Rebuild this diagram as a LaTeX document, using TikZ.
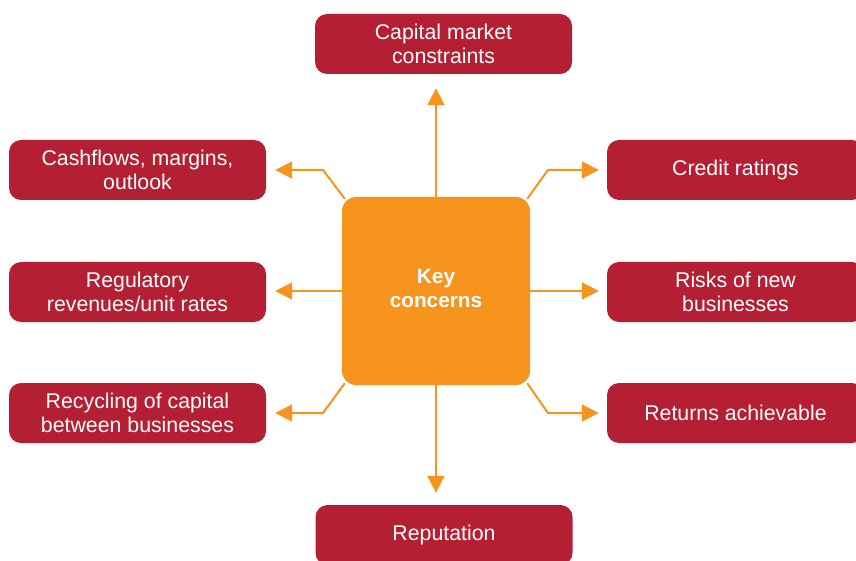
\documentclass[tikz,border=0pt]{standalone}
\usepackage{fontspec}
\setmainfont{Liberation Sans}
\usetikzlibrary{arrows.meta,backgrounds}
\definecolor{cred}{RGB}{181,31,52}
\definecolor{corange}{RGB}{247,148,30}
\begin{document}
\begin{tikzpicture}[x=1pt,y=-1pt,
  rbox/.style={fill=cred, rounded corners=12pt, minimum width=257pt, minimum height=60pt,
    text=white, font=\fontsize{21.3}{24}\selectfont, align=center, inner sep=0pt},
  cbox/.style={fill=corange, rounded corners=14pt, minimum width=188pt, minimum height=188pt,
    text=white, font=\fontsize{20.8}{24}\selectfont\bfseries, align=center, inner sep=0pt},
  arr/.style={draw=corange, line width=2pt, -{Triangle[length=17pt,width=17pt]}}]
\clip (0,0) rectangle (856,561);
\useasboundingbox (0,0) rectangle (856,561);
\node[rbox] (top) at (443.5,44) {Capital market\\constraints};
\node[rbox] (l1) at (137.5,170) {Cashflows, margins,\\outlook};
\node[rbox] (l2) at (137.5,292) {Regulatory\\revenues/unit rates};
\node[rbox] (l3) at (137.5,413) {Recycling of capital\\between businesses};
\node[rbox] (r1) at (735.5,170) {Credit ratings};
\node[rbox] (r2) at (735.5,292) {Risks of new\\businesses};
\node[rbox] (r3) at (735.5,413) {Returns achievable};
\node[rbox] (bot) at (444,535) {Reputation};
\node[cbox] (c) at (436,291) {};
\node[font=\fontsize{20.8}{24}\selectfont\bfseries, text=white, align=center, inner sep=0pt] (ck) at (436,288) {Key\\concerns};
\coordinate (b1) at (323,170);
\coordinate (b2) at (548,170);
\coordinate (b3) at (323,413);
\coordinate (b4) at (548,413);
\begin{scope}[on background layer]
\draw[arr, shorten >=14pt] (c.north) -- (c.north |- top.south);
\draw[arr, shorten >=12pt] (c.south) -- (c.south |- bot.north);
\draw[arr, shorten >=9pt] (c.west) -- (c.west -| l2.east);
\draw[arr, shorten >=8pt] (c.east) -- (c.east -| r2.west);
\draw[arr, shorten >=9pt] ([shift={(3,2)}]c.north west) -- (b1) -- (b1 -| l1.east);
\draw[arr, shorten >=8pt] ([shift={(-3,2)}]c.north east) -- (b2) -- (b2 -| r1.west);
\draw[arr, shorten >=9pt] ([shift={(3,-2)}]c.south west) -- (b3) -- (b3 -| l3.east);
\draw[arr, shorten >=8pt] ([shift={(-3,-2)}]c.south east) -- (b4) -- (b4 -| r3.west);
\end{scope}
\end{tikzpicture}
\end{document}
